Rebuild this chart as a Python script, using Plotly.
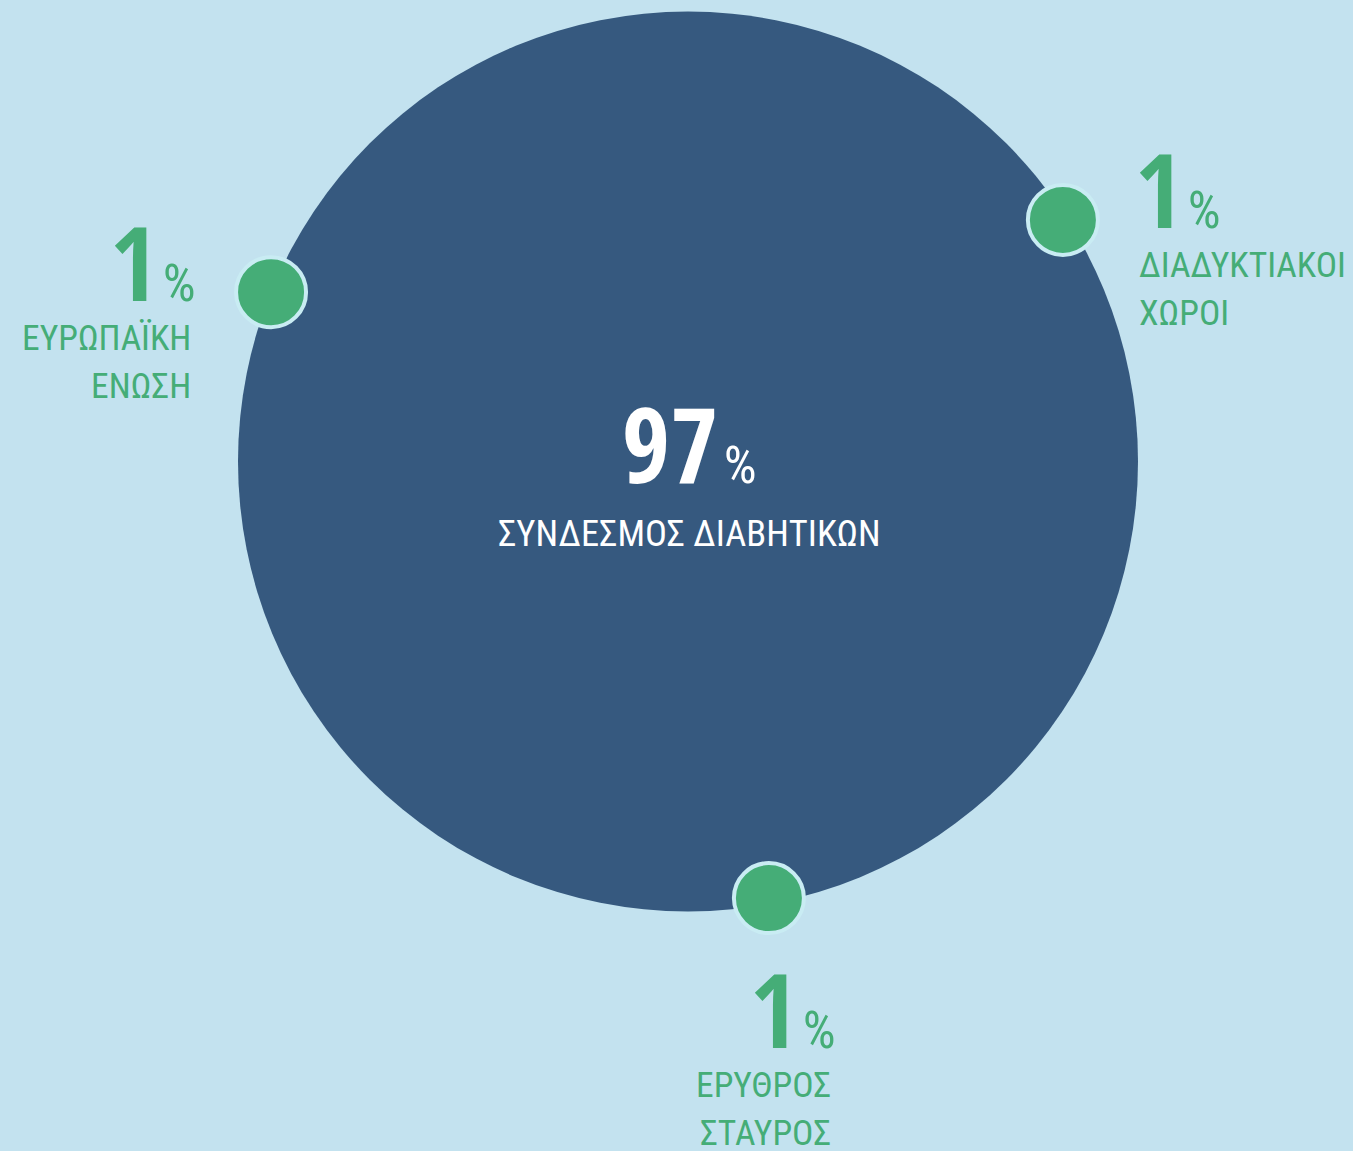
import math
import plotly.graph_objects as go

# Share of funding by source
main_label = "ΣΥΝΔΕΣΜΟΣ ΔΙΑΒΗΤΙΚΩΝ"
main_value = 97
minor_labels = [["ΔΙΑΔΥΚΤΙΑΚΟΙ", "ΧΩΡΟΙ"], ["ΕΥΡΩΠΑΪΚΗ", "ΕΝΩΣΗ"], ["ΕΡΥΘΡΟΣ", "ΣΤΑΥΡΟΣ"]]
minor_values = [1, 1, 1]

# Layout constants (pixel space)
W, H = 1353, 1151
CX, CY, R = 688, 461.5, 450
DOT_ANGLES = [32.8, 157.9, -79.5]          # degrees, counter-clockwise from east
DOT_RADII = [446, 450, 444]
LABEL_SIDE = ["left", "right", "right"]    # text alignment of each callout
NUM_DX = [71, -74, 68]                     # number anchor offset from dot centre
TXT_DX = [75, -79, 63]                     # caption anchor offset from dot centre
NUM_BASE = [8, 9, 150]                     # number baseline below dot centre
LINE_GAP = 48

BG = "#c3e2ef"
NAVY = "#36597f"
GREEN = "#45ad77"
RING = "#c9ecf3"
NUM_FONT = "Open Sans Condensed, Roboto Condensed, sans-serif"
TXT_FONT = "Roboto Condensed, DejaVu Sans Condensed, sans-serif"
NUM_SIZE, BIG_SIZE, PCT_SIZE, TXT_SIZE, MAIN_TXT_SIZE = 102, 104, 52, 35.5, 36.5


def number_text(v):
    return (f"<b>{v}</b><span style='font-size:{PCT_SIZE}px;"
            f"font-family:Roboto Condensed;font-weight:400'>\u200a%</span>")


fig = go.Figure()

fig.add_shape(type="circle", xref="x", yref="y",
              x0=CX - R, x1=CX + R, y0=CY - R, y1=CY + R,
              fillcolor=NAVY, line=dict(width=0), layer="below")

dx = [CX + r * math.cos(math.radians(a)) for a, r in zip(DOT_ANGLES, DOT_RADII)]
dy = [CY - r * math.sin(math.radians(a)) for a, r in zip(DOT_ANGLES, DOT_RADII)]

fig.add_trace(go.Scatter(
    x=dx, y=dy, mode="markers", hoverinfo="skip",
    marker=dict(size=70, color=GREEN, line=dict(width=4, color=RING)),
))

# Centre label (baseline-to-middle offset ~0.39 em for this face)
base = CY + 21.5
fig.add_annotation(
    x=CX + 1, y=base - 0.39 * BIG_SIZE, xref="x", yref="y",
    xanchor="center", yanchor="middle", text=number_text(main_value),
    font=dict(family=NUM_FONT, size=BIG_SIZE, color="white"), showarrow=False,
    borderpad=0,
)
fig.add_annotation(
    x=CX + 1, y=CY + 72, xref="x", yref="y", xanchor="center", yanchor="middle",
    text=main_label, font=dict(family=TXT_FONT, size=MAIN_TXT_SIZE, color="white"),
    showarrow=False, borderpad=0,
)

# Callouts
for x0, y0, lines, val, side, nx, tx, nb in zip(dx, dy, minor_labels, minor_values,
                                                LABEL_SIDE, NUM_DX, TXT_DX, NUM_BASE):
    b = y0 + nb
    fig.add_annotation(
        x=x0 + nx, y=b - 0.39 * NUM_SIZE, xref="x", yref="y",
        xanchor=side, yanchor="middle", text=number_text(val),
        font=dict(family=NUM_FONT, size=NUM_SIZE, color=GREEN), showarrow=False,
        borderpad=0,
    )
    for k, line in enumerate(lines):
        fig.add_annotation(
            x=x0 + tx, y=b + 37 + k * LINE_GAP, xref="x", yref="y",
            xanchor=side, yanchor="middle", text=line,
            font=dict(family=TXT_FONT, size=TXT_SIZE, color=GREEN), showarrow=False,
            borderpad=0,
        )

fig.update_layout(
    width=W, height=H, margin=dict(l=0, r=0, t=0, b=0),
    paper_bgcolor=BG, plot_bgcolor=BG, showlegend=False,
    xaxis=dict(range=[0, W], visible=False, fixedrange=True),
    yaxis=dict(range=[H, 0], visible=False, fixedrange=True),
)

fig.write_html("out.html")
